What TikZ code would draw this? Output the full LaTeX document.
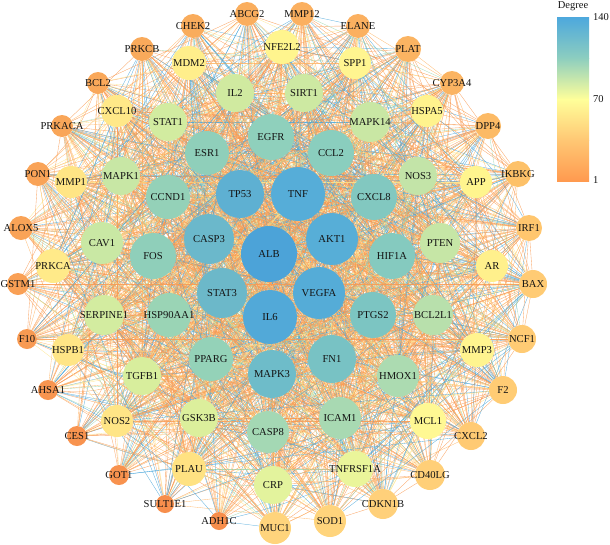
\documentclass[tikz,border=0pt]{standalone}
\usepackage{fontspec}
\setmainfont{Liberation Serif}
\pgfdeclarelayer{edges}
\pgfsetlayers{edges,main}
\newcount\rndseed
\rndseed=12345
\def\nextrnd{\global\rndseed=\numexpr\rndseed*75+74\relax
  \global\rndseed=\numexpr\rndseed-65537*((\rndseed-32768)/65537)\relax}
\definecolor{eor}{HTML}{F99A52}
\definecolor{elo}{HTML}{FFB566}
\definecolor{eye}{HTML}{FFE68A}
\definecolor{ebl}{HTML}{4AA6DA}
\definecolor{egr}{HTML}{9ED8B0}
\definecolor{txt}{HTML}{141414}
\def\pickcolor{\ifnum\rndseed<29000 \def\ecol{eor}\else\ifnum\rndseed<41000 \def\ecol{elo}\else\ifnum\rndseed<48000 \def\ecol{eye}\else\ifnum\rndseed<60500 \def\ecol{ebl}\else\def\ecol{egr}\fi\fi\fi\fi}
\def\nodelist{%
ALB/269/254/28/4CA3D8/100,
TNF/298/194/27/56ADD8/98,
AKT1/332/239/26/57AED7/97,
VEGFA/319/293/26/55ACD7/97,
IL6/270/317/27/52A9D8/98,
STAT3/222/293/25/6CB8C9/90,
CASP3/209/239/25/6BB8CB/92,
TP53/240/194/24/5EB0D2/95,
EGFR/271/137/23/8FD0BC/82,
CCL2/331/153/23/8ACEBE/82,
CXCL8/374/197/23/82C8C0/84,
HIF1A/392/256/23/85CABF/83,
PTGS2/373/315/23/7CC5C2/85,
FN1/332/359/24/78C2C4/86,
MAPK3/272/374/24/6EBCC9/88,
PPARG/211/359/22/94D2B8/80,
HSP90AA1/169/315/22/9AD4B5/78,
FOS/153/256/23/8FCFBA/80,
CCND1/168/197/22/94D1B8/78,
ESR1/207/153/22/8FCFBA/80,
IL2/235/93/19/D0EAA0/68,
SIRT1/304/93/19/CDE9A2/68,
MAPK14/370/122/20/C9E7A4/70,
NOS3/418/176/19/C3E4A8/70,
PTEN/440/243/20/C6E6A6/70,
BCL2L1/433/315/20/B8E0AC/72,
HMOX1/398/376/21/ACDBB1/74,
ICAM1/340/418/21/A8D9B2/74,
CASP8/268/432/21/A4D8B4/75,
GSK3B/199/418/19/DCEF9C/66,
TGFB1/142/376/19/D8EE9D/66,
SERPINE1/104/315/20/D3ECA0/67,
CAV1/102/243/21/C9E8A4/68,
MAPK1/121/176/19/C8E7A5/68,
STAT1/168/122/19/D2ECA0/67,
NFE2L2/282/47/17/FFF58E/55,
SPP1/355/63/16/FFF590/52,
HSPA5/427/111/16/FFF38D/55,
APP/476/182/16/FFF58E/53,
AR/492/266/16/FFF08C/52,
MMP3/477/350/17/FFF48F/55,
MCL1/428/421/18/FFF893/58,
TNFRSF1A/355/469/18/EAF59A/60,
CRP/273/485/19/E3F39D/62,
PLAU/189/469/17/FFE282/50,
NOS2/117/421/16/FFE586/48,
HSPB1/68/350/16/FFE586/48,
PRKCA/53/266/17/FFEA89/50,
MMP1/71/182/16/FFE585/48,
CXCL10/117/111/16/FFE888/50,
MDM2/189/63/17/FFEE8B/52,
MUC1/275/528/16/FFD47C/42,
SOD1/330/521/16/FFD47C/42,
CDKN1B/383/504/15/FFD07A/40,
CD40LG/430/475/15/FFCF78/40,
CXCL2/471/436/14/FFCA73/38,
F2/503/390/14/FFCC74/38,
NCF1/522/339/14/FFCB74/38,
BAX/533/284/14/FFCB74/38,
IRF1/529/228/13/FFC66E/36,
IKBKG/518/174/13/FDC169/35,
DPP4/488/126/13/FCBA65/34,
CYP3A4/452/83/12/FBB462/33,
PLAT/408/49/13/FBB462/33,
ELANE/358/26/12/FBB060/32,
MMP12/302/14/12/FBB060/32,
ABCG2/247/14/12/FAAE5E/32,
CHEK2/193/26/12/F9AC5C/31,
PRKCB/142/49/12/F9AA5B/30,
BCL2/98/83/11/F9A85A/30,
PRKACA/62/126/11/F9A659/29,
PON1/38/174/12/F9A357/28,
ALOX5/21/228/12/F9A357/28,
GSTM1/18/284/11/F9A055/28,
F10/27/339/10/F89A52/26,
AHSA1/48/390/10/F89550/25,
CES1/77/436/10/F8934F/25,
GOT1/119/475/10/F8924E/24,
SULT1E1/165/504/9/F78E4C/22,
ADH1C/219/521/9/F78E4C/22}
\definecolor{cba}{HTML}{4DA8DD}
\definecolor{cbb}{HTML}{8DCEBF}
\definecolor{cbbc}{HTML}{C9E8A6}
\definecolor{cbc}{HTML}{FFFF9A}
\definecolor{cbcd}{HTML}{FFE086}
\definecolor{cbd}{HTML}{FFC774}
\definecolor{cbe}{HTML}{FF9A4F}
\tikzset{
  gene/.style={circle, draw=none, inner sep=0pt},
  genetext/.style={inner sep=0pt, text=txt, font=\fontsize{10.6}{12}\selectfont},
  edge/.style={line width=0.35pt, opacity=0.85},
  legendtext/.style={inner sep=0pt, text=txt, font=\fontsize{10.5}{12}\selectfont}
}
\begin{document}
\begin{tikzpicture}[x=1pt,y=-1pt]
\useasboundingbox (0,0) rectangle (610,544);
% nodes (circles)
\foreach \n/\x/\y/\r/\c/\w in \nodelist {
  \definecolor{nc}{HTML}{\c}
  \node[gene, fill=nc, minimum size=2*\r pt] (\n) at (\x,\y) {};
}
% edges
\begin{pgfonlayer}{edges}
\foreach \na/\xa/\ya/\ra/\ca/\wa [count=\i] in \nodelist {
  \foreach \nb/\xb/\yb/\rb/\cb/\wb [count=\j] in \nodelist {
    \ifnum\j>\i
      \nextrnd
      \ifnum\numexpr\rndseed*10000/65537\relax<\numexpr\wa*\wb*30/10\relax
        \nextrnd
        \pickcolor
        \nextrnd
        \ifnum\rndseed<12000
          \draw[edge,draw=\ecol] (\na) to[bend left=12] (\nb);
        \else
          \draw[edge,draw=\ecol] (\na) -- (\nb);
        \fi
      \fi
    \fi
  }
}
\end{pgfonlayer}
% labels
\foreach \n/\x/\y/\r/\c/\w in \nodelist {
  \node[genetext] (\n-t) at (\n) {\n};
}
% legend
\shade[top color=cba, bottom color=cbb] (557,17) rectangle (589,58.5);
\shade[top color=cbb, middle color=cbbc, bottom color=cbc] (557,58) rectangle (589,99.5);
\shade[top color=cbc, middle color=cbcd, bottom color=cbd] (557,99) rectangle (589,140.5);
\shade[top color=cbd, bottom color=cbe] (557,140) rectangle (589,181);
\node[legendtext] (degtitle) at (573,6) {Degree};
\node[legendtext, anchor=west] (deg140) at (593,17) {140};
\node[legendtext, anchor=west] (deg70) at (593,99) {70};
\node[legendtext, anchor=west] (deg1) at (593,180) {1};
\end{tikzpicture}
\end{document}
